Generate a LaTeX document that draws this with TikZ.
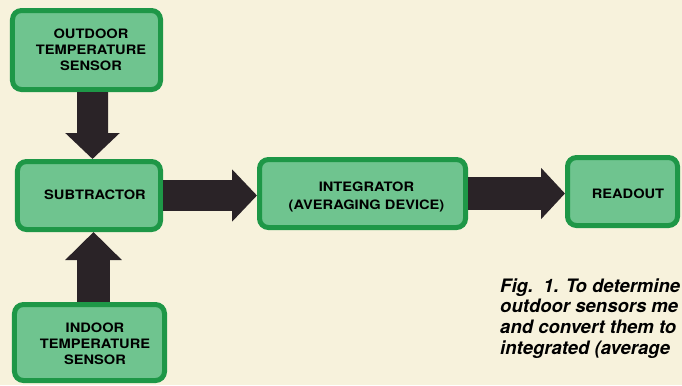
\documentclass[tikz,border=0pt]{standalone}
\usepackage{fontspec}
\setmainfont{TeX Gyre Heros}
\newfontfamily\boxfont[FakeStretch=1.13]{TeX Gyre Heros}
\newfontfamily\capfont{TeX Gyre Heros}
\usetikzlibrary{arrows.meta}
\definecolor{bg}{HTML}{F7F2DC}
\definecolor{boxfill}{HTML}{6FC48F}
\definecolor{boxline}{HTML}{1E9747}
\definecolor{arrowc}{HTML}{2A2327}
\begin{document}
\begin{tikzpicture}[x=1bp,y=-1bp,
  box/.style={draw=boxline, line width=5bp, fill=boxfill, rounded corners=9bp, inner sep=0pt},
  lbl/.style={font={\fontsize{13}{16}\selectfont\boxfont\bfseries}, align=center, inner sep=0pt},
  fat/.style={draw=arrowc, line width=31bp, -{Triangle[length=25bp,width=51bp]}},
  captxt/.style={font={\fontsize{18.6}{20.6}\selectfont\capfont\bfseries\itshape}, align=left, inner sep=0pt}]
\fill[bg] (0,0) rectangle (682,385);
\clip (0,0) rectangle (682,385);
% boxes
\node[box, minimum width=148bp, minimum height=79bp] (out) at (86.5,50) {};
\node[lbl] (outt) at (91,50) {OUTDOOR\\TEMPERATURE\\SENSOR};
\node[box, minimum width=143bp, minimum height=68bp] (sub) at (89,195.5) {};
\node[lbl] (subt) at (95,195) {SUBTRACTOR};
\node[box, minimum width=150bp, minimum height=76bp] (ind) at (89.5,342.5) {};
\node[lbl] (indt) at (95,344) {INDOOR\\TEMPERATURE\\SENSOR};
\node[box, minimum width=206bp, minimum height=68bp] (int) at (362.5,193.5) {};
\node[lbl, font={\fontsize{13}{18}\selectfont\boxfont\bfseries}] (intt) at (366.5,197) {INTEGRATOR\\(AVERAGING DEVICE)};
\node[box, minimum width=110bp, minimum height=68bp] (rd) at (622.5,191.5) {};
\node[lbl] (rdt) at (628,194) {READOUT};
% arrows
\draw[fat, -{Triangle[length=26bp,width=53bp]}] ([xshift=6bp]out.south) -- ([xshift=3.5bp]sub.north);
\draw[fat, line width=33bp, -{Triangle[length=28bp,width=55bp]}] ([xshift=4bp]ind.north) -- ([xshift=4.5bp]sub.south);
\draw[fat] (sub.east) -- (sub.east -| int.west);
\draw[fat, line width=33bp, -{Triangle[length=24bp,width=50bp]}] (int.east) -- (int.east -| rd.west);
% caption
\node[captxt, anchor=north west] (cap) at (500,278.5) {Fig.\ \ 1. To determine\\outdoor sensors me\\and convert them to\\integrated (average};
\end{tikzpicture}
\end{document}
